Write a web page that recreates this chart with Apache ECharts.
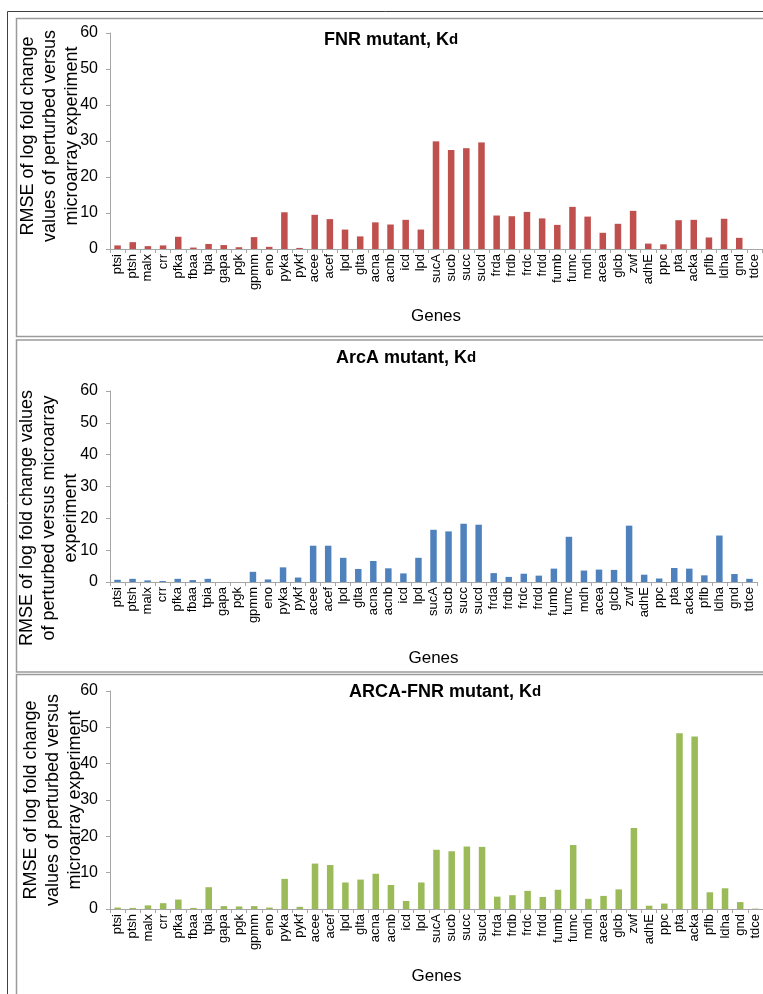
<!DOCTYPE html>
<html><head><meta charset="utf-8">
<script src="https://cdn.jsdelivr.net/npm/echarts@6/dist/echarts.min.js"></script>
<style>html,body{margin:0;padding:0;background:#fff}#c{width:763px;height:994px}</style>
</head><body><div id="c"></div>
<script>
const genes = ['ptsi','ptsh','malx','crr','pfka','fbaa','tpia','gapa','pgk','gpmm','eno','pyka','pykf','acee','acef','lpd','glta','acna','acnb','icd','lpd','sucA','sucb','succ','sucd','frda','frdb','frdc','frdd','fumb','fumc','mdh','acea','glcb','zwf','adhE','ppc','pta','acka','pflb','ldha','gnd','tdce'];
const fnrValues = [1.0,1.9,0.8,1.0,3.4,0.4,1.4,1.1,0.5,3.3,0.6,10.2,0.3,9.5,8.3,5.4,3.5,7.4,6.8,8.1,5.4,29.9,27.5,28.0,29.6,9.3,9.1,10.3,8.5,6.7,11.7,9.0,4.5,7.0,10.6,1.5,1.3,8.0,8.1,3.2,8.4,3.1,0];
const arcaValues = [0.7,1.0,0.5,0.3,1.0,0.6,1.0,0,0,3.2,0.8,4.6,1.4,11.4,11.4,7.6,4.1,6.6,4.3,2.7,7.6,16.4,15.9,18.3,18.0,2.8,1.6,2.6,2.0,4.2,14.2,3.6,3.9,3.8,17.7,2.3,1.1,4.4,4.2,2.1,14.6,2.5,1.0];
const arcaFnrValues = [0.4,0.3,1.0,1.6,2.6,0.3,6.0,0.8,0.7,0.8,0.4,8.3,0.6,12.5,12.1,7.3,8.1,9.7,6.6,2.2,7.3,16.3,15.9,17.2,17.1,3.4,3.8,5.0,3.3,5.3,17.6,2.8,3.6,5.4,22.3,0.9,1.5,48.4,47.5,4.6,5.7,1.9,0.1];
const yMin = 0, yMax = 60, yStep = 10;
const titles = ['FNR mutant, K', 'ArcA mutant, K', 'ARCA-FNR mutant, K'];
const titleSub = 'd';
const yNames = [
  'RMSE of log fold change\nvalues of perturbed versus\nmicroarray experiment',
  'RMSE of log fold change values\nof perturbed versus microarray\nexperiment',
  'RMSE of log fold change\nvalues of perturbed versus\nmicroarray experiment'
];
const xName = 'Genes';
const colors = ['#C0504D', '#4F81BD', '#9BBB59'];
const seriesData = [fnrValues, arcaValues, arcaFnrValues];

const FONT = '"Liberation Sans", Arial, sans-serif';
const grids = [
  {left: 110, top: 33, height: 216, right: 1},
  {left: 110, top: 391, height: 191, right: 6},
  {left: 110, top: 691, height: 218, right: 0}
];
const nameGaps = [59, 68, 59];
const titlePos = [[391, 40], [406, 358], [445, 692]];
const yNamePos = [[50, 136], [49, 518], [53, 800]];

const chart = echarts.init(document.getElementById('c'), null, {renderer: 'canvas'});
const axisGray = '#a6a6a6';
const option = {
  backgroundColor: '#fff',
  animation: false,
  grid: grids,
  xAxis: grids.map((g, i) => ({
    type: 'category', gridIndex: i, data: genes,
    name: xName, nameLocation: 'middle', nameGap: nameGaps[i],
    nameTextStyle: {fontSize: 17, fontFamily: FONT, color: '#000'},
    axisLine: {lineStyle: {color: axisGray}},
    axisTick: {show: true, length: 4, lineStyle: {color: axisGray}},
    axisLabel: {rotate: 90, interval: 0, fontSize: 13, fontFamily: FONT, color: '#000', margin: 5}
  })),
  yAxis: grids.map((g, i) => ({
    type: 'value', gridIndex: i, min: yMin, max: yMax, interval: yStep,
    axisLine: {show: true, lineStyle: {color: axisGray}},
    axisTick: {show: true, length: 4, lineStyle: {color: axisGray}},
    splitLine: {show: false},
    axisLabel: {fontSize: 16, fontFamily: FONT, color: '#000', margin: 12}
  })),
  series: seriesData.map((d, i) => ({
    type: 'bar', xAxisIndex: i, yAxisIndex: i, data: d,
    barWidth: '43%', itemStyle: {color: colors[i]}
  })),
  graphic: [
    {type: 'rect', shape: {x: 7.5, y: 11.5, width: 800, height: 1000}, style: {fill: null, stroke: '#404040', lineWidth: 1}, silent: true},
    {type: 'rect', shape: {x: 16.5, y: 18.5, width: 800, height: 318}, style: {fill: null, stroke: '#9a9a9a', lineWidth: 1.5}, silent: true},
    {type: 'rect', shape: {x: 16.5, y: 340, width: 800, height: 332}, style: {fill: null, stroke: '#9a9a9a', lineWidth: 1.5}, silent: true},
    {type: 'rect', shape: {x: 16.5, y: 674.5, width: 800, height: 400}, style: {fill: null, stroke: '#9a9a9a', lineWidth: 1.5}, silent: true}
  ].concat(titles.map((t, i) => ({
    type: 'text', x: titlePos[i][0], y: titlePos[i][1], silent: true,
    style: {
      text: '{a|' + t + '}{b|' + titleSub + '}',
      align: 'center', verticalAlign: 'middle',
      rich: {
        a: {fontSize: 18, fontWeight: 'bold', fontFamily: FONT, fill: '#000', color: '#000'},
        b: {fontSize: 15, fontWeight: 'bold', fontFamily: FONT, fill: '#000', color: '#000'}
      }
    }
  }))).concat(yNames.map((t, i) => ({
    type: 'text', x: yNamePos[i][0], y: yNamePos[i][1], rotation: Math.PI / 2, silent: true,
    style: {
      text: t, align: 'center', verticalAlign: 'middle',
      font: '18px ' + FONT, lineHeight: 22, fill: '#000'
    }
  })))
};
chart.setOption(option);
</script>
</body></html>
